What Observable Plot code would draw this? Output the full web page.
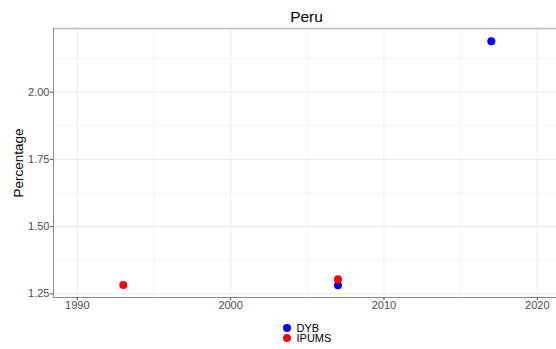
<!DOCTYPE html>
<html>
<head>
<meta charset="utf-8">
<script src="https://cdn.jsdelivr.net/npm/d3@7"></script>
<script src="https://cdn.jsdelivr.net/npm/@observablehq/plot@0.6"></script>
<style>
  body { margin: 0; background: #fff; font-family: "Liberation Sans", Arial, sans-serif; }
  #wrap { position: relative; width: 556px; height: 349px; }
  #wrap svg { position: absolute; left: 0; top: 0; }
  .leg { position: absolute; font-size: 11px; color: #000; line-height: 10px; }
  .leg .dot { position: absolute; width: 8px; height: 8px; border-radius: 50%; }
  .leg .lab { position: absolute; white-space: nowrap; line-height: 10px; }
</style>
</head>
<body>
<div id="wrap"></div>
<script>
const chartTitle = "Peru";
const yTitle = "Percentage";
const seriesNames = ["DYB", "IPUMS"];
const seriesColors = ["#0000FF", "#FF0000"];
const dybYears = [2007, 2017];
const dybValues = [1.282, 2.19];
const ipumsYears = [1993, 2007];
const ipumsValues = [1.283, 1.304];
const xTicks = [1990, 2000, 2010, 2020];
const xMinor = [1995, 2005, 2015];
const yTicks = [1.25, 1.5, 1.75, 2.0];
const yMinor = [1.375, 1.625, 1.875, 2.125];
const xDomain = [1988.45, 2021.25];
const yDomain = [1.2363, 2.237];

const data = [
  ...dybYears.map((y, i) => ({year: y, value: dybValues[i], series: "DYB"})),
  ...ipumsYears.map((y, i) => ({year: y, value: ipumsValues[i], series: "IPUMS"}))
];

const font = "Liberation Sans, Arial, sans-serif";
const chart = Plot.plot({
  width: 556,
  height: 349,
  marginLeft: 53,
  marginRight: 0,
  marginTop: 28,
  marginBottom: 52,
  style: {fontFamily: font, background: "#fff", overflow: "visible"},
  x: {domain: xDomain},
  y: {domain: yDomain},
  color: {domain: seriesNames, range: seriesColors},
  marks: [
    Plot.gridX(xMinor, {stroke: "#f4f4f4", strokeOpacity: 1, strokeWidth: 1}),
    Plot.gridY(yMinor, {stroke: "#f4f4f4", strokeOpacity: 1, strokeWidth: 1}),
    Plot.gridX(xTicks, {stroke: "#ebebeb", strokeOpacity: 1, strokeWidth: 1}),
    Plot.gridY(yTicks, {stroke: "#ebebeb", strokeOpacity: 1, strokeWidth: 1}),
    Plot.ruleY([yDomain[1]], {stroke: "#bebebe", strokeWidth: 1.5}),
    Plot.ruleX([xDomain[0]], {stroke: "#8a8a8a", strokeWidth: 1}),
    Plot.ruleY([yDomain[0]], {stroke: "#8a8a8a", strokeWidth: 1}),
    Plot.axisX({ticks: xTicks, tickSize: 3, tickPadding: 1, fontSize: 11, color: "#4d4d4d", label: null, tickFormat: d3.format("d")}),
    Plot.axisY({ticks: yTicks, tickSize: 3, tickPadding: 1, fontSize: 11, color: "#4d4d4d", label: null, tickFormat: d3.format(".2f")}),
    Plot.dot(data, {x: "year", y: "value", fill: "series", r: 4, stroke: null}),
    Plot.text([chartTitle], {frameAnchor: "top", lineAnchor: "middle", textAnchor: "middle", dy: -11, dx: 1.5, fontSize: 15.5, fill: "#000"}),
    Plot.text([yTitle], {frameAnchor: "left", lineAnchor: "middle", textAnchor: "middle", rotate: -90, dx: -35, fontSize: 13.5, fill: "#000"})
  ]
});
const wrap = document.getElementById("wrap");
wrap.appendChild(chart);

// legend below the plot
const legendCenters = [327.7, 338.2];
seriesNames.forEach((name, i) => {
  const row = document.createElement("div");
  row.className = "leg";
  row.style.left = "0px";
  row.style.top = "0px";
  const dot = document.createElement("div");
  dot.className = "dot";
  dot.style.background = seriesColors[i];
  dot.style.left = (287 - 4) + "px";
  dot.style.top = (legendCenters[i] - 4) + "px";
  const lab = document.createElement("div");
  lab.className = "lab";
  lab.textContent = name;
  lab.style.left = "296.5px";
  lab.style.top = (legendCenters[i] - 5) + "px";
  row.appendChild(dot);
  row.appendChild(lab);
  wrap.appendChild(row);
});
</script>
</body>
</html>
